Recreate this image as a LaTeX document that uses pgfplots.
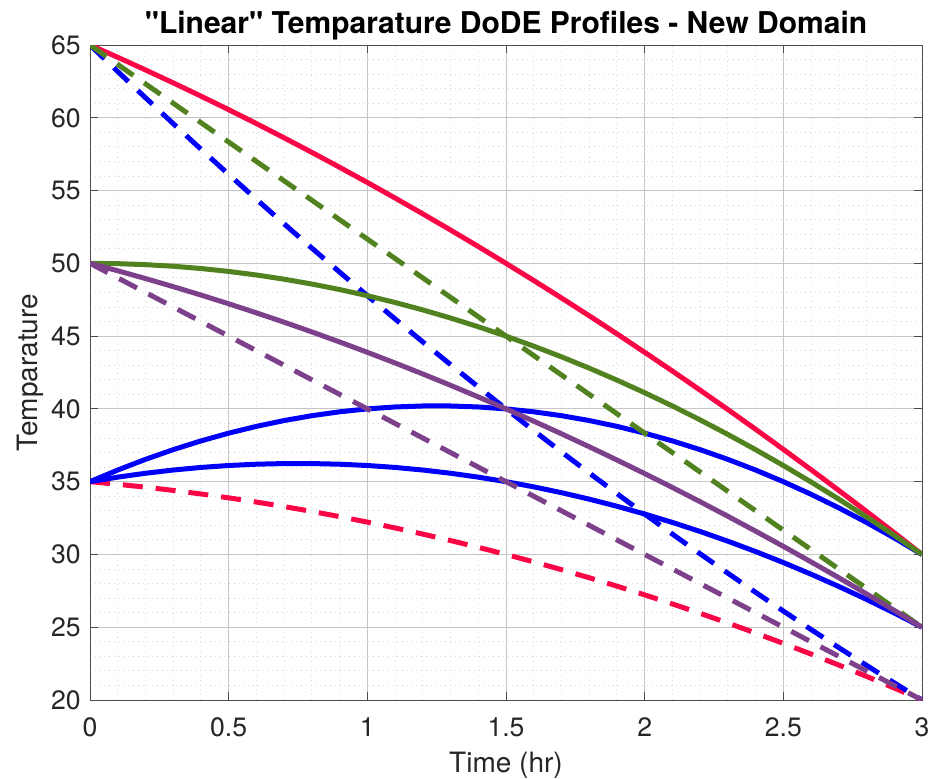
\documentclass[border=0pt]{standalone}
\usepackage{pgfplots}
\pgfplotsset{compat=1.18}
\usepackage{fontspec}
\setmainfont{TeX Gyre Heros}[Ligatures=TeXOff]
\definecolor{cred}{RGB}{250,5,70}
\definecolor{cgreen}{RGB}{82,130,32}
\definecolor{cblue}{RGB}{0,0,250}
\definecolor{cpurple}{RGB}{125,65,140}
\begin{document}
\begin{tikzpicture}
\useasboundingbox (-45pt,-39pt) rectangle (426pt,350pt);
\begin{axis}[
  at={(0,0)}, anchor=south west,
  scale only axis, width=416pt, height=327.5pt,
  xmin=0, xmax=3, ymin=20, ymax=65,
  xtick={0,0.5,1,1.5,2,2.5,3},
  xticklabels={0,0.5,1,1.5,2,2.5,3},
  ytick={20,25,30,35,40,45,50,55,60,65},
  minor x tick num=4, minor y tick num=4,
  grid=both,
  major grid style={gray!45, line width=0.5pt},
  minor grid style={gray!30, dotted, line width=0.45pt},
  axis line style={gray!60!black, line width=0.5pt},
  tick style={gray!60!black, line width=0.5pt},
  tick align=inside,
  major tick length=4pt, minor tick length=0pt,
  /pgf/number format/assume math mode=true,
  ticklabel style={font=\fontsize{13.3}{15}\selectfont, text=black!85},
  xticklabel style={inner sep=0pt, anchor=north, yshift=-8.5pt},
  yticklabel style={inner sep=0pt, anchor=east, xshift=-4.5pt},
  title={"Linear" Temparature DoDE Profiles - New Domain},
  title style={font=\fontsize{15}{17}\selectfont\bfseries, at={(axis description cs:0.5,1)}, anchor=base, yshift=0pt, inner sep=0pt},
  xlabel={Time (hr)},
  ylabel={Temparature},
  xlabel style={font=\fontsize{14}{16}\selectfont, at={(axis description cs:0.5,0)}, anchor=base, yshift=-36pt, inner sep=0pt, text=black!85},
  ylabel style={font=\fontsize{14}{16}\selectfont, at={(axis description cs:-0.072,0.5)}, anchor=center, inner sep=0pt, text=black!85},
  every axis plot/.append style={line width=2.5pt},
  clip mode=individual,
]
% red solid
\addplot[cred] coordinates {(0,65) (0.1,64.156) (0.2,63.289) (0.3,62.4) (0.4,61.489) (0.5,60.556) (0.6,59.6) (0.7,58.622) (0.8,57.622) (0.9,56.6) (1,55.556) (1.1,54.489) (1.2,53.4) (1.3,52.289) (1.4,51.156) (1.5,50) (1.6,48.822) (1.7,47.622) (1.8,46.4) (1.9,45.156) (2,43.889) (2.1,42.6) (2.2,41.289) (2.3,39.956) (2.4,38.6) (2.5,37.222) (2.6,35.822) (2.7,34.4) (2.8,32.956) (2.9,31.489) (3,30)};
% red dashed
\addplot[cred, dash pattern=on 10pt off 6.5pt] coordinates {(0,35) (0.1,34.822) (0.2,34.622) (0.3,34.4) (0.4,34.156) (0.5,33.889) (0.6,33.6) (0.7,33.289) (0.8,32.956) (0.9,32.6) (1,32.222) (1.1,31.822) (1.2,31.4) (1.3,30.956) (1.4,30.489) (1.5,30) (1.6,29.489) (1.7,28.956) (1.8,28.4) (1.9,27.822) (2,27.222) (2.1,26.6) (2.2,25.956) (2.3,25.289) (2.4,24.6) (2.5,23.889) (2.6,23.156) (2.7,22.4) (2.8,21.622) (2.9,20.822) (3,20)};
% blue dashed
\addplot[cblue, dash pattern=on 10pt off 6.5pt] coordinates {(0,65) (0.1,63.178) (0.2,61.378) (0.3,59.6) (0.4,57.844) (0.5,56.111) (0.6,54.4) (0.7,52.711) (0.8,51.044) (0.9,49.4) (1,47.778) (1.1,46.178) (1.2,44.6) (1.3,43.044) (1.4,41.511) (1.5,40) (1.6,38.511) (1.7,37.044) (1.8,35.6) (1.9,34.178) (2,32.778) (2.1,31.4) (2.2,30.044) (2.3,28.711) (2.4,27.4) (2.5,26.111) (2.6,24.844) (2.7,23.6) (2.8,22.378) (2.9,21.178) (3,20)};
% blue solid upper
\addplot[cblue] coordinates {(0,35) (0.1,35.8) (0.2,36.533) (0.3,37.2) (0.4,37.8) (0.5,38.333) (0.6,38.8) (0.7,39.2) (0.8,39.533) (0.9,39.8) (1,40) (1.1,40.133) (1.2,40.2) (1.3,40.2) (1.4,40.133) (1.5,40) (1.6,39.8) (1.7,39.533) (1.8,39.2) (1.9,38.8) (2,38.333) (2.1,37.8) (2.2,37.2) (2.3,36.533) (2.4,35.8) (2.5,35) (2.6,34.133) (2.7,33.2) (2.8,32.2) (2.9,31.133) (3,30)};
% blue solid lower
\addplot[cblue] coordinates {(0,35) (0.1,35.311) (0.2,35.578) (0.3,35.8) (0.4,35.978) (0.5,36.111) (0.6,36.2) (0.7,36.244) (0.8,36.244) (0.9,36.2) (1,36.111) (1.1,35.978) (1.2,35.8) (1.3,35.578) (1.4,35.311) (1.5,35) (1.6,34.644) (1.7,34.244) (1.8,33.8) (1.9,33.311) (2,32.778) (2.1,32.2) (2.2,31.578) (2.3,30.911) (2.4,30.2) (2.5,29.444) (2.6,28.644) (2.7,27.8) (2.8,26.911) (2.9,25.978) (3,25)};
% green solid
\addplot[cgreen] coordinates {(0,50) (0.1,49.978) (0.2,49.911) (0.3,49.8) (0.4,49.644) (0.5,49.444) (0.6,49.2) (0.7,48.911) (0.8,48.578) (0.9,48.2) (1,47.778) (1.1,47.311) (1.2,46.8) (1.3,46.244) (1.4,45.644) (1.5,45) (1.6,44.311) (1.7,43.578) (1.8,42.8) (1.9,41.978) (2,41.111) (2.1,40.2) (2.2,39.244) (2.3,38.244) (2.4,37.2) (2.5,36.111) (2.6,34.978) (2.7,33.8) (2.8,32.578) (2.9,31.311) (3,30)};
% green dashed
\addplot[cgreen, dash pattern=on 10pt off 6.5pt] coordinates {(0,65) (1.5,45) (3,25)};
% purple solid
\addplot[cpurple] coordinates {(0,50) (0.1,49.489) (0.2,48.956) (0.3,48.4) (0.4,47.822) (0.5,47.222) (0.6,46.6) (0.7,45.956) (0.8,45.289) (0.9,44.6) (1,43.889) (1.1,43.156) (1.2,42.4) (1.3,41.622) (1.4,40.822) (1.5,40) (1.6,39.156) (1.7,38.289) (1.8,37.4) (1.9,36.489) (2,35.556) (2.1,34.6) (2.2,33.622) (2.3,32.622) (2.4,31.6) (2.5,30.556) (2.6,29.489) (2.7,28.4) (2.8,27.289) (2.9,26.156) (3,25)};
% purple dashed
\addplot[cpurple, dash pattern=on 10pt off 6.5pt] coordinates {(0,50) (1.5,35) (3,20)};
\end{axis}
\end{tikzpicture}
\end{document}
